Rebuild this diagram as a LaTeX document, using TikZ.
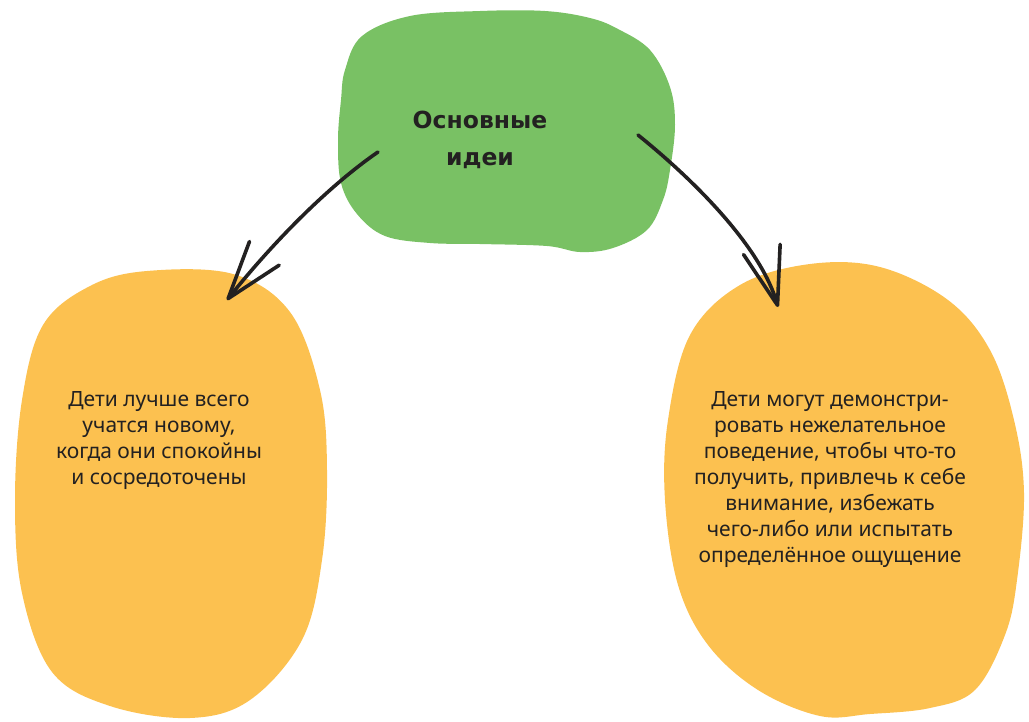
\documentclass[tikz,border=0pt]{standalone}
\usepackage{fontspec}
\setmainfont{Noto Sans}
\newfontfamily\titlefont{DejaVu Sans}
\usetikzlibrary{arrows.meta}
\definecolor{blobgreen}{RGB}{121,193,100}
\definecolor{blobyellow}{RGB}{252,193,80}
\definecolor{ink}{RGB}{35,33,33}
\tikzset{
  label/.style={align=center, text=ink, inner sep=0pt},
  bodytext/.style={label, font=\fontsize{21}{26}\selectfont},
  titletext/.style={label, font=\titlefont\bfseries\fontsize{23.5}{37}\selectfont},
  arrowline/.style={draw=ink, line width=3.6pt, line cap=round,
    -{Straight Barb[length=58pt, width=38pt, line width=3.6pt, round]}},
}
\begin{document}
\begin{tikzpicture}[x=1pt,y=-1pt]
\useasboundingbox (0,0) rectangle (1029,721);
% green blob
\fill[blobgreen] plot[smooth cycle, tension=0.6] coordinates {
 (345,70) (362,36) (410,16) (480,11) (545,11) (590,18) (618,29) (650,50) (670,87) (675,125)
 (670,170) (663,200) (647,230) (613,248) (580,252) (547,246) (480,244) (430,243)
 (385,236) (357,214) (341,183) (338,140) (341,100)};
% left orange blob
\fill[blobyellow] plot[smooth cycle, tension=0.6] coordinates {
 (147,271) (233,274) (290,312) (320,390) (327,470) (322,560) (302,640)
 (250,700) (190,718) (110,706) (52,672) (22,593) (15,500) (22,400) (43,325) (90,286)};
% right orange blob
\fill[blobyellow] plot[smooth cycle, tension=0.6] coordinates {
 (810,264) (880,267) (948,300) (990,350) (1014,420) (1024,493) (1017,580) (1005,635)
 (975,690) (930,708) (870,714) (820,716) (758,690) (708,645) (678,585) (665,500) (668,420) (690,335) (740,285)};
% texts
\node[titletext] (main) at (480,140) {Основные\\идеи};
\node[bodytext] (left) at (159,441) {Дети лучше всего\\учатся новому,\\когда они спокойны\\и сосредоточены};
\node[bodytext] (right) at (830,480) {Дети могут демонстри-\\ровать нежелательное\\поведение, чтобы что-то\\получить, привлечь к себе\\внимание, избежать\\чего-либо или испытать\\определённое ощущение};
% arrow ends
\coordinate (ls) at (378,152);
\coordinate (le) at (227,300);
\coordinate (rs) at (638,135);
\coordinate (re) at (778,307);
\draw[arrowline] (ls) .. controls (330,185) and (275,240) .. (le);
\draw[arrowline] (rs) .. controls (700,185) and (762,250) .. (re);
\end{tikzpicture}
\end{document}
